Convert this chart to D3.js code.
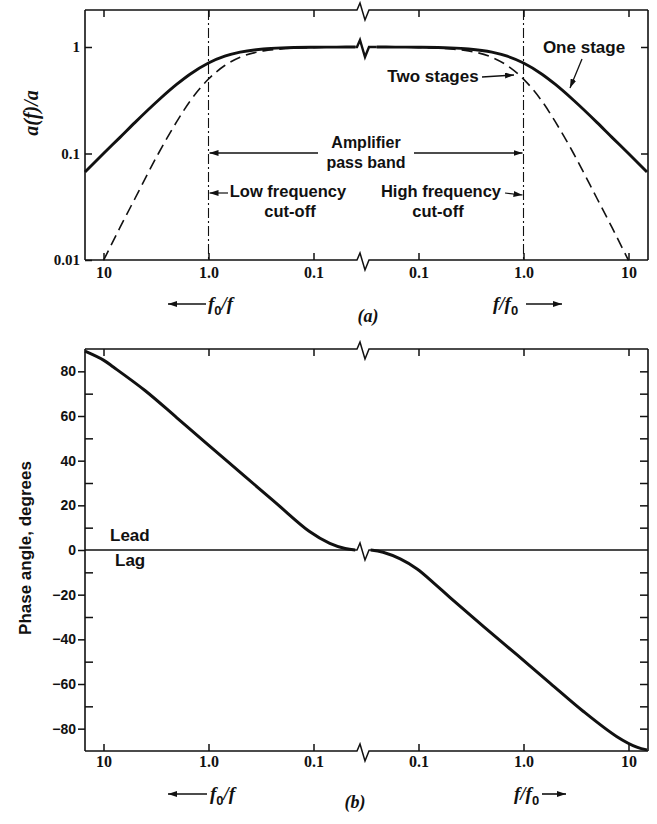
<!DOCTYPE html>
<html><head><meta charset="utf-8">
<script src="https://cdn.jsdelivr.net/npm/d3@7/dist/d3.min.js"></script>
<style>body{margin:0;background:#fff} svg{display:block}</style>
</head><body><svg id="c" width="657" height="824"></svg>
<script>
// ---------- data ----------
const decadeTicks = [10, 1, 0.1];
const decadeLabels = ["10", "1.0", "0.1"];
const ampTicks = [1, 0.1, 0.01];
const ampLabels = ["1", "0.1", "0.01"];
// frequency ratio (f0/f on the left half, f/f0 on the right half)
const ratio    = [15, 10, 7, 5, 3, 2, 1.5, 1, 0.7, 0.5, 0.3, 0.2, 0.1, 0.06, 0.04];
const oneStage = [0.067, 0.1, 0.141, 0.196, 0.316, 0.447, 0.555, 0.707, 0.819, 0.894, 0.958, 0.981, 0.995, 0.998, 1.0];
const twoStage = [null, 0.0099, 0.02, 0.038, 0.1, 0.2, 0.31, 0.5, 0.67, 0.8, 0.92, 0.96, 0.99, 0.997, 1.0];
// phase
const leadRatio = [15, 10, 8, 4, 2, 1, 0.45, 0.22, 0.11, 0.07, 0.05, 0.04];
const leadDeg   = [89, 85, 81.8, 71.3, 59.2, 47, 33, 20.4, 8.4, 3, 0.7, 0];
const lagRatio  = [0.035, 0.046, 0.067, 0.097, 0.14, 0.2, 0.42, 0.87, 1.8, 3.7, 7.7, 12, 15];
const lagDeg    = [0, -1, -4, -8.5, -14.8, -21.3, -34.4, -47, -59.7, -72.2, -83.5, -88.3, -89.5];
const phaseMajor = [-80, -60, -40, -20, 0, 20, 40, 60, 80];
const phaseMajorLabels = ["\u221280", "\u221260", "\u221240", "\u221220", "0", "20", "40", "60", "80"];
const phaseMinor = [-70, -50, -30, -10, 10, 30, 50, 70];
const phaseRight = [-80, -70, -60, -50, -40, -30, -20, -10, 10, 20, 30, 40, 50, 60, 70, 80];

// ---------- layout ----------
const L = 85, R = 648;
const T1 = 10, B1 = 260, T2 = 349, B2 = 751;
const bx0 = 357, bx1 = 369;   // axis break
const INK = "#111";
const SANS = "'Liberation Sans', Arial, sans-serif";
const SERIF = "'Liberation Serif', 'Times New Roman', serif";

const xL = d3.scaleLog().domain([10, 0.1]).range([103.5, 313.5]);
const xR = d3.scaleLog().domain([0.1, 10]).range([418.5, 628.5]);
const yA = d3.scaleLog().domain([0.01, 1]).range([B1, 47]);
const yP = d3.scaleLinear().domain([-90, 90]).range([B2, T2]);

const svg = d3.select("#c");
svg.append("rect").attr("width", 657).attr("height", 824).attr("fill", "#fff");
const defs = svg.append("defs");
defs.append("marker").attr("id", "ah").attr("viewBox", "0 0 9 6")
  .attr("refX", 9).attr("refY", 3).attr("markerWidth", 9).attr("markerHeight", 6)
  .attr("markerUnits", "userSpaceOnUse").attr("orient", "auto")
  .append("path").attr("d", "M0,0 L9,3 L0,6 Z").attr("fill", INK);

// break squiggle on a horizontal line
function brokenLine(y, x0, x1) {
  return `M${x0},${y} H${bx0} L${bx0 + 3},${y - 7} L${bx0 + 8},${y + 10} L${bx1},${y} H${x1}`;
}
function frame(top, bottom) {
  svg.append("path").attr("d", brokenLine(top, L, R)).attr("fill", "none").attr("stroke", INK).attr("stroke-width", 1.5);
  svg.append("path").attr("d", brokenLine(bottom, L, R)).attr("fill", "none").attr("stroke", INK).attr("stroke-width", 1.5);
  svg.append("line").attr("x1", L).attr("x2", L).attr("y1", top).attr("y2", bottom).attr("stroke", INK).attr("stroke-width", 1.6);
  svg.append("line").attr("x1", R).attr("x2", R).attr("y1", top).attr("y2", bottom).attr("stroke", INK).attr("stroke-width", 1.6);
}
function styleAxis(g, font, size, weight) {
  g.select(".domain").remove();
  g.selectAll("line").attr("stroke", INK).attr("stroke-width", 1.5);
  g.attr("font-family", font).attr("font-size", size).attr("font-weight", weight);
  g.selectAll("text").attr("fill", INK);
}
function xAxes(top, bottom, pad) {
  [xL, xR].forEach((sc, k) => {
    const vals = k === 0 ? decadeTicks : decadeTicks.slice().reverse();
    const labs = k === 0 ? decadeLabels : decadeLabels.slice().reverse();
    const gb = svg.append("g").attr("transform", `translate(0,${bottom})`)
      .call(d3.axisBottom(sc).tickValues(vals).tickSize(-7).tickPadding(pad).tickFormat((d, i) => labs[i]));
    styleAxis(gb, SERIF, 16, "bold");
    const gt = svg.append("g").attr("transform", `translate(0,${top})`)
      .call(d3.axisTop(sc).tickValues(vals).tickSize(-7).tickFormat(() => ""));
    styleAxis(gt, SERIF, 16, "bold");
  });
}

// ================= (a) amplitude =================
frame(T1, B1);
xAxes(T1, B1, 7);
const ya = svg.append("g").attr("transform", `translate(${L},0)`)
  .call(d3.axisLeft(yA).tickValues(ampTicks).tickSize(-7).tickPadding(5).tickFormat((d, i) => ampLabels[i]));
styleAxis(ya, SERIF, 15, "bold");
const yar = svg.append("g").attr("transform", `translate(${R},0)`)
  .call(d3.axisRight(yA).tickValues([1, 0.1]).tickSize(-7).tickFormat(() => ""));
styleAxis(yar, SERIF, 15, "bold");

// cut-off lines
[xL(1), xR(1)].forEach(x => {
  svg.append("line").attr("x1", x).attr("x2", x).attr("y1", T1).attr("y2", B1)
    .attr("stroke", INK).attr("stroke-width", 1.1).attr("stroke-dasharray", "10,3,2,3");
});

function drawSeries(sc, ysc, vals, ys, curve, attrs) {
  const pts = vals.map((r, i) => [r, ys[i]]).filter(p => p[1] != null)
    .map(p => [sc(p[0]), ysc(p[1])])
    .sort((a, b) => a[0] - b[0]);
  const p = svg.append("path").attr("d", d3.line().curve(curve)(pts)).attr("fill", "none").attr("stroke", INK);
  Object.entries(attrs).forEach(([k, v]) => p.attr(k, v));
}
const mono = d3.curveMonotoneX;
drawSeries(xL, yA, ratio, twoStage, mono, {"stroke-width": 1.6, "stroke-dasharray": "11,6"});
drawSeries(xR, yA, ratio, twoStage, mono, {"stroke-width": 1.6, "stroke-dasharray": "11,6"});
drawSeries(xL, yA, ratio, oneStage, mono, {"stroke-width": 2.9});
drawSeries(xR, yA, ratio, oneStage, mono, {"stroke-width": 2.9});
svg.append("path").attr("d", brokenLine(yA(1), xL(0.04), xR(0.04)))
  .attr("fill", "none").attr("stroke", INK).attr("stroke-width", 2.4);

// annotations (a)
function txt(x, y, s, opts = {}) {
  const t = svg.append("text").attr("x", x).attr("y", y).text(s)
    .attr("font-family", opts.font || SANS).attr("font-size", opts.size || 17)
    .attr("font-weight", opts.weight || "bold").attr("text-anchor", opts.anchor || "middle").attr("fill", INK);
  if (opts.italic) t.attr("font-style", "italic");
  return t;
}
function arrow(x1, y1, x2, y2, w = 1.4) {
  svg.append("line").attr("x1", x1).attr("y1", y1).attr("x2", x2).attr("y2", y2)
    .attr("stroke", INK).attr("stroke-width", w).attr("marker-end", "url(#ah)");
}
txt(366, 148, "Amplifier", {size: 16});
txt(366, 168, "pass band", {size: 16});
arrow(318, 153, xL(1) + 1, 153);
arrow(414, 153, xR(1) - 1, 153);
txt(288, 197, "Low frequency", {size: 16.5});
txt(290, 217, "cut-off", {size: 16.5});
arrow(228, 193, xL(1) + 1, 193, 1.2);
txt(441, 197, "High frequency", {size: 16.5});
txt(438, 217, "cut-off", {size: 16.5});
arrow(505, 193, xR(1) - 1, 195, 1.2);
txt(584, 53, "One stage");
arrow(582, 59, 570, 88, 1.3);
txt(433, 82, "Two stages");
arrow(482, 77, 514, 75, 1.3);

// y label (a)
svg.append("text").attr("transform", "translate(38,113) rotate(-90)").attr("text-anchor", "middle")
  .attr("font-family", SERIF).attr("font-style", "italic").attr("font-weight", "bold").attr("font-size", 20)
  .attr("fill", INK).text("a(f)/a");

// ratio labels
function ratioLabel(xText, y, x1, x2, inv) {
  const t = svg.append("text").attr("x", xText).attr("y", y).attr("font-family", SERIF)
    .attr("font-style", "italic").attr("font-size", 19).attr("font-weight", "bold").attr("fill", INK);
  if (inv) {
    t.append("tspan").text("f");
    t.append("tspan").attr("dy", 5).attr("font-size", 13).attr("font-style", "normal").attr("font-family", SANS).text("0");
    t.append("tspan").attr("dy", -5).text("/f");
  } else {
    t.append("tspan").text("f/f");
    t.append("tspan").attr("dy", 5).attr("font-size", 13).attr("font-style", "normal").attr("font-family", SANS).text("0");
  }
  arrow(x1, y - 6, x2, y - 6, 1.6);
}
ratioLabel(208, 310, 206, 168, true);
ratioLabel(493, 310, 526, 562, false);
txt(368, 322, "(a)", {font: SERIF, italic: true, size: 18});

// ================= (b) phase =================
frame(T2, B2);
xAxes(T2, B2, 5);
const yp1 = svg.append("g").attr("transform", `translate(${L},0)`)
  .call(d3.axisLeft(yP).tickValues(phaseMajor).tickSize(7).tickPadding(2).tickFormat((d, i) => phaseMajorLabels[i]));
styleAxis(yp1, SANS, 14, "bold");
const yp2 = svg.append("g").attr("transform", `translate(${L},0)`)
  .call(d3.axisLeft(yP).tickValues(phaseMinor).tickSize(-8).tickFormat(() => ""));
styleAxis(yp2, SANS, 14, "bold");
const yp3 = svg.append("g").attr("transform", `translate(${R},0)`)
  .call(d3.axisRight(yP).tickValues(phaseRight).tickSize(-8).tickFormat(() => ""));
styleAxis(yp3, SANS, 14, "bold");

svg.append("path").attr("d", brokenLine(yP(0), L, R)).attr("fill", "none").attr("stroke", INK).attr("stroke-width", 1.5);
const cr = d3.curveCatmullRom.alpha(0.5);
drawSeries(xL, yP, leadRatio, leadDeg, cr, {"stroke-width": 3});
drawSeries(xR, yP, lagRatio, lagDeg, cr, {"stroke-width": 3});

txt(110, 541, "Lead", {anchor: "start"});
txt(115, 566, "Lag", {anchor: "start"});
svg.append("text").attr("transform", "translate(31,548) rotate(-90)").attr("text-anchor", "middle")
  .attr("font-family", SANS).attr("font-weight", "bold").attr("font-size", 17)
  .attr("fill", INK).text("Phase angle, degrees");

ratioLabel(210, 800, 207, 168, true);
ratioLabel(514, 800, 542, 566, false);
txt(355, 808, "(b)", {font: SERIF, italic: true, size: 18});
</script></body></html>
